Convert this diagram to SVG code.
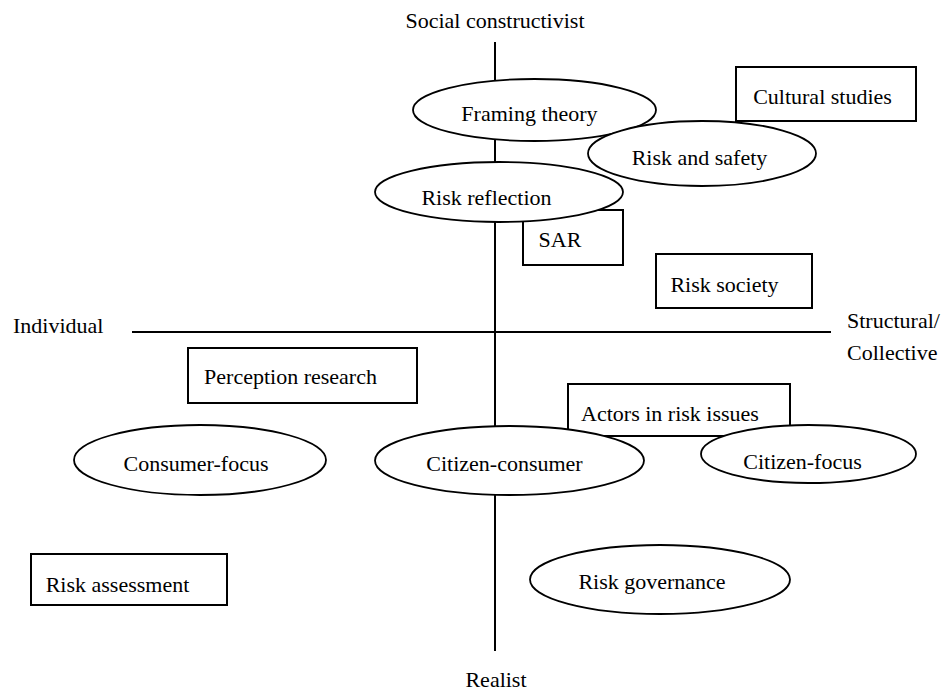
<svg xmlns="http://www.w3.org/2000/svg" width="948" height="692" viewBox="0 0 948 692">
<style>
text{font-family:"Liberation Serif","Times New Roman",serif;font-size:22px;fill:#000}
.c{text-anchor:middle}
.box{fill:#fff;stroke:#000;stroke-width:2}
.ell{fill:#fff;stroke:#000;stroke-width:1.8}
.axis{stroke:#000;stroke-width:2;fill:none}
</style>
<rect x="0" y="0" width="948" height="692" fill="#fff"/>
<g id="connectors">
<line class="axis" x1="495" y1="42" x2="495" y2="651"/>
<line class="axis" x1="132" y1="332" x2="831" y2="332"/>
</g>
<g id="axis-labels">
<text class="c" x="495" y="28">Social constructivist</text>
<text class="c" x="496" y="687">Realist</text>
<text x="13" y="333">Individual</text>
<text x="847" y="328">Structural/</text>
<text x="847" y="360">Collective</text>
</g>
<g id="cultural-studies">
<rect class="box" x="736" y="67" width="180" height="54"/>
<text class="c" x="822.5" y="104">Cultural studies</text>
</g>
<g id="sar">
<rect class="box" x="523" y="210" width="100" height="55"/>
<text class="c" x="560" y="247">SAR</text>
</g>
<g id="risk-society">
<rect class="box" x="656" y="254" width="156" height="54"/>
<text class="c" x="724.5" y="292">Risk society</text>
</g>
<g id="perception-research">
<rect class="box" x="188" y="348" width="229" height="55"/>
<text class="c" x="290.5" y="384">Perception research</text>
</g>
<g id="actors-in-risk-issues">
<rect class="box" x="568" y="384" width="222" height="52"/>
<text class="c" x="670" y="421">Actors in risk issues</text>
</g>
<g id="risk-assessment">
<rect class="box" x="31" y="554" width="196" height="51"/>
<text class="c" x="117.5" y="592">Risk assessment</text>
</g>
<g id="framing-theory">
<ellipse class="ell" cx="534.5" cy="110" rx="121.5" ry="31"/>
<text class="c" x="529.5" y="121">Framing theory</text>
</g>
<g id="risk-and-safety">
<ellipse class="ell" cx="702" cy="153.5" rx="114" ry="32.5"/>
<text class="c" x="699.5" y="165">Risk and safety</text>
</g>
<g id="risk-reflection">
<ellipse class="ell" cx="499" cy="192" rx="124" ry="30"/>
<text class="c" x="486.5" y="205">Risk reflection</text>
</g>
<g id="consumer-focus">
<ellipse class="ell" cx="200" cy="460" rx="126" ry="35"/>
<text class="c" x="196" y="471">Consumer-focus</text>
</g>
<g id="citizen-consumer">
<ellipse class="ell" cx="509.5" cy="460.5" rx="134.5" ry="34.5"/>
<text class="c" x="504.5" y="471">Citizen-consumer</text>
</g>
<g id="citizen-focus">
<ellipse class="ell" cx="808.5" cy="454" rx="107.5" ry="29"/>
<text class="c" x="802.5" y="469">Citizen-focus</text>
</g>
<g id="risk-governance">
<ellipse class="ell" cx="660" cy="579.5" rx="130" ry="34.5"/>
<text class="c" x="652" y="589">Risk governance</text>
</g>
</svg>
